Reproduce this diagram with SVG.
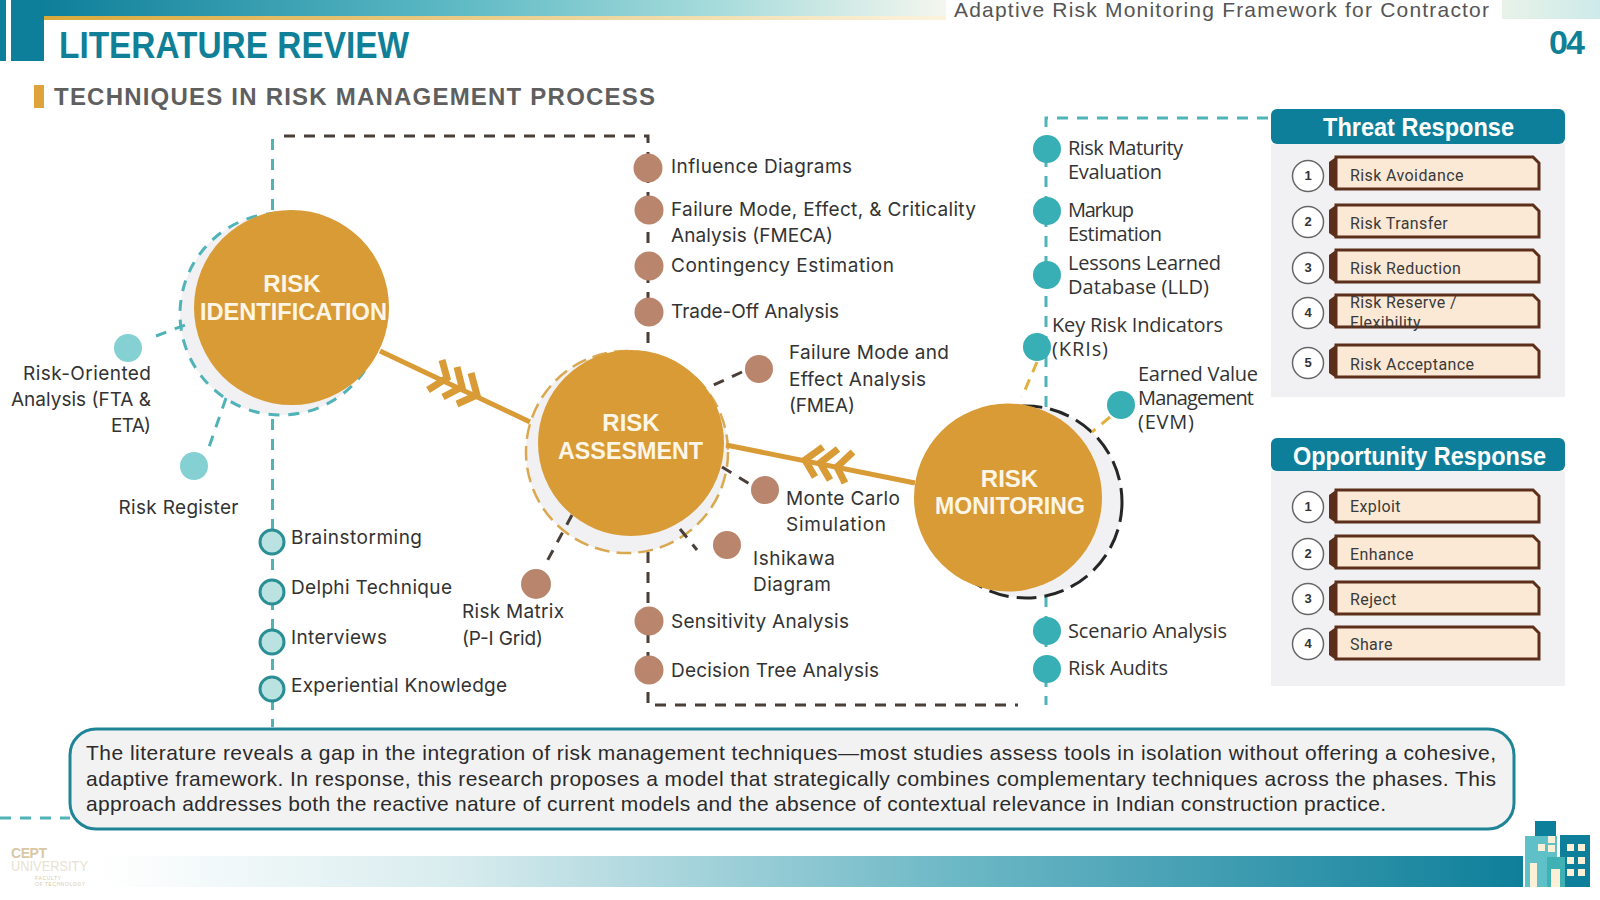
<svg xmlns="http://www.w3.org/2000/svg" width="1600" height="900" viewBox="0 0 1600 900">
<defs>
<linearGradient id="topBar" x1="0" x2="1" y1="0" y2="0"><stop offset="0" stop-color="#0e7f9a"/><stop offset="0.45" stop-color="#5cb9c4"/><stop offset="0.75" stop-color="#a8dcdc"/><stop offset="1" stop-color="#f4f6ee"/></linearGradient>
<linearGradient id="topRight" x1="0" x2="1" y1="0" y2="0"><stop offset="0" stop-color="#e8f2e8"/><stop offset="1" stop-color="#cdeaea"/></linearGradient>
<linearGradient id="goldLine" x1="0" x2="1" y1="0" y2="0"><stop offset="0" stop-color="#d9a93a"/><stop offset="1" stop-color="#fbf3dd"/></linearGradient>
<linearGradient id="botBar" x1="0" x2="1" y1="0" y2="0"><stop offset="0" stop-color="#ffffff"/><stop offset="0.25" stop-color="#d8ecee"/><stop offset="0.6" stop-color="#6db8c6"/><stop offset="1" stop-color="#0e7f9a"/></linearGradient>
<symbol id="box" overflow="visible"><path class="tab" d="M0 5 L7 0 V33 L0 28 Z"/><path class="bx" d="M7 0 H204 L210 6 V32 H7 Z"/></symbol>
</defs>
<style>
text{font-family:"Liberation Sans",Arial,sans-serif}
.lbl{font-family:Inter,"Liberation Sans",sans-serif;font-size:19px;fill:#333}
.lbr{font-family:"Open Sans","Liberation Sans",sans-serif;font-size:20px;fill:#333}
.cap{font-weight:700;font-size:24px;fill:#fdf6e6;text-anchor:middle}
.hd{font-weight:700;font-size:25px;fill:#fff}
.it{font-family:Roboto,sans-serif;font-size:16px;fill:#3a3a3a;letter-spacing:.4px}
.num{font-weight:700;font-size:13px;fill:#333;text-anchor:middle}
.nc{fill:#fff;stroke:#666;stroke-width:1.5}
.tab{fill:#5c2f1a}
.bx{fill:#fbe9d6;stroke:#5c2f1a;stroke-width:3}
.gold{fill:#d99b36}
.cres{fill:#f1f1f3}
.tl{fill:none;stroke:#4fb3b8;stroke-width:3;stroke-dasharray:11 9}
.bl{fill:none;stroke:#4a3f38;stroke-width:3;stroke-dasharray:11 9}
.yl{fill:none;stroke:#e0b13c;stroke-width:3;stroke-dasharray:11 8}
.arrow{fill:none;stroke:#d99b36;stroke-width:5}
.fl{fill:none;stroke:#d99b36;stroke-width:7}
.br{fill:#b9856c}
.te{fill:#38aeb5}
.lt{fill:#85d0d3}
.rg{fill:#b9e2e0;stroke:#2a8f94;stroke-width:3}
.para{font-size:21px;fill:#2b2b2b}
</style>

<g id="header">
<rect x="44" y="0" width="902" height="17" fill="url(#topBar)"/>
<rect x="44" y="16" width="902" height="4" fill="url(#goldLine)"/>
<rect x="0" y="0" width="6" height="61" fill="#0e7f9a"/>
<rect x="11" y="0" width="33" height="61" fill="#0e7f9a"/>
<rect x="1502" y="0" width="98" height="19" fill="url(#topRight)"/>
<text x="954" y="17" font-size="21" fill="#555" textLength="535">Adaptive Risk Monitoring Framework for Contractor</text>
<text x="59" y="58" font-size="36" font-weight="700" fill="#107f98" textLength="350" lengthAdjust="spacingAndGlyphs">LITERATURE REVIEW</text>
<text x="1549" y="54" font-size="34" font-weight="700" fill="#107f98" textLength="36">04</text>
<rect x="34" y="85" width="10" height="23" fill="#dfa33c"/>
<text x="54" y="105" font-size="24" font-weight="700" fill="#5f5f5f" textLength="601">TECHNIQUES IN RISK MANAGEMENT PROCESS</text>
</g>

<g id="footer">
<rect x="100" y="856" width="1423" height="31" fill="url(#botBar)"/>
<g id="buildings">
<rect x="1535" y="821" width="21" height="20" fill="#0e7f9a"/>
<rect x="1560" y="835" width="30" height="52" fill="#0e7f9a"/>
<rect x="1525" y="836" width="22" height="51" fill="#5fc0c8"/>
<rect x="1547" y="836" width="10" height="21" fill="#5fc0c8"/>
<rect x="1547" y="857" width="18" height="30" fill="#3fb0b3"/>
<rect x="1530" y="863" width="7" height="24" fill="#fbf0d6"/>
<rect x="1551" y="869" width="9" height="18" fill="#fbf0d6"/>
<g fill="#fbf0d6"><rect x="1538" y="844" width="7" height="7"/><rect x="1548" y="836" width="7" height="7"/><rect x="1548" y="845" width="7" height="7"/><rect x="1567" y="844" width="7" height="7"/><rect x="1578" y="844" width="7" height="7"/><rect x="1567" y="857" width="7" height="7"/><rect x="1578" y="857" width="7" height="7"/><rect x="1567" y="869" width="7" height="7"/><rect x="1578" y="869" width="7" height="7"/></g>
</g>
<g id="logo">
<text x="11" y="858" font-size="14" font-weight="700" fill="#d8c8a6" textLength="36">CEPT</text>
<text x="11" y="871" font-size="14" fill="#e8e2d2" textLength="77" lengthAdjust="spacingAndGlyphs">UNIVERSITY</text>
<text x="35" y="880" font-size="5" fill="#d8c8a6" textLength="26">FACULTY</text>
<text x="35" y="886" font-size="5" fill="#d8c8a6" textLength="50">OF TECHNOLOGY</text>
</g>
</g>

<g id="connectors">
<path class="tl" d="M272.500 139V727"/>
<path class="bl" d="M284 136H648V705H1018"/>
<path class="tl" d="M1268 118H1046V705"/>
<path class="tl" d="M0 818H70"/>
</g>

<g id="crescents">
<circle class="cres" cx="281" cy="314" r="101"/>
<circle class="cres" cx="627" cy="452" r="101"/>
<circle class="cres" cx="1026" cy="502" r="96"/>
<circle cx="281" cy="314" r="101" class="tl" stroke-dasharray="18 7"/>
<circle cx="627" cy="452" r="101" fill="none" stroke="#d9a84f" stroke-width="2.500" stroke-dasharray="15 7"/>
<circle cx="1026" cy="502" r="96" fill="none" stroke="#262626" stroke-width="3" stroke-dasharray="20 8"/>
</g>

<g id="radials">
<path class="tl" d="M156 336L193 322"/>
<path class="tl" d="M226 398L208 450"/>
<path class="bl" d="M742 372L705 389"/>
<path class="bl" d="M722 467L753 486"/>
<path class="bl" d="M680 529L697 550"/>
<path class="bl" d="M572 515L545 565"/>
<path class="yl" d="M1037 362L1022 397"/>
<path class="yl" d="M1110 417L1092 432"/>
<path class="arrow" d="M380 351L530 422"/>
<path class="arrow" d="M726 445L915 483"/>
<path class="fl" d="M442 360L447 378L428 390"/><path class="fl" d="M457 367L462 387L443 397"/><path class="fl" d="M471 373L477 395L457 404"/>
<path class="fl" d="M823 447L805 460L815 477"/><path class="fl" d="M838 449L820 463L830 480"/><path class="fl" d="M853 452L837 467L845 483"/>
</g>

<g id="risk-identification"><circle class="gold" cx="291.500" cy="307.500" r="97.500"/><text class="cap" x="292" y="292">RISK</text><text class="cap" x="293.500" y="320" textLength="187" lengthAdjust="spacingAndGlyphs">IDENTIFICATION</text></g>
<g id="risk-assesment"><circle class="gold" cx="631" cy="443" r="93"/><text class="cap" x="631" y="431">RISK</text><text class="cap" x="630.500" y="459" textLength="145" lengthAdjust="spacingAndGlyphs">ASSESMENT</text></g>
<g id="risk-monitoring"><circle class="gold" cx="1008" cy="497.500" r="94"/><text class="cap" x="1009.500" y="487">RISK</text><text class="cap" x="1010" y="514" textLength="150" lengthAdjust="spacingAndGlyphs">MONITORING</text></g>

<g id="identification-techniques">
<g id="n-roa"><circle class="lt" cx="128" cy="348" r="14"/><text class="lbl" x="23" y="380" textLength="128">Risk-Oriented</text><text class="lbl" x="11" y="406" textLength="140">Analysis (FTA &amp;</text><text class="lbl" x="111" y="432" textLength="40">ETA)</text></g>
<g id="n-register"><circle class="lt" cx="194" cy="466" r="14"/><text class="lbl" x="118.500" y="514" textLength="120">Risk Register</text></g>
<g id="n-brain"><circle class="rg" cx="272" cy="542" r="12"/><text class="lbl" x="291" y="544" textLength="131">Brainstorming</text></g>
<g id="n-delphi"><circle class="rg" cx="272" cy="592" r="12"/><text class="lbl" x="291" y="594" textLength="161">Delphi Technique</text></g>
<g id="n-interviews"><circle class="rg" cx="272" cy="642" r="12"/><text class="lbl" x="291" y="644" textLength="96">Interviews</text></g>
<g id="n-experiential"><circle class="rg" cx="272" cy="689" r="12"/><text class="lbl" x="291" y="692" textLength="216">Experiential Knowledge</text></g>
</g>

<g id="assessment-techniques">
<g id="n-influence"><circle class="br" cx="648" cy="168" r="14.500"/><text class="lbl" x="671" y="173" textLength="181">Influence Diagrams</text></g>
<g id="n-fmeca"><circle class="br" cx="649" cy="210" r="14.500"/><text class="lbl" x="671" y="216" textLength="305">Failure Mode, Effect, &amp; Criticality</text><text class="lbl" x="671" y="242" textLength="162">Analysis (FMECA)</text></g>
<g id="n-contingency"><circle class="br" cx="649" cy="266" r="14.500"/><text class="lbl" x="671" y="272" textLength="223">Contingency Estimation</text></g>
<g id="n-tradeoff"><circle class="br" cx="649" cy="312" r="14.500"/><text class="lbl" x="671" y="318" textLength="168">Trade-Off Analysis</text></g>
<g id="n-fmea"><circle class="br" cx="759" cy="369" r="14"/><text class="lbl" x="789" y="359" textLength="160">Failure Mode and</text><text class="lbl" x="789" y="386" textLength="137">Effect Analysis</text><text class="lbl" x="789" y="412" textLength="66">(FMEA)</text></g>
<g id="n-monte"><circle class="br" cx="765" cy="490" r="14"/><text class="lbl" x="786" y="505" textLength="114">Monte Carlo</text><text class="lbl" x="786" y="531" textLength="100">Simulation</text></g>
<g id="n-ishikawa"><circle class="br" cx="727" cy="545" r="14"/><text class="lbl" x="753" y="565" textLength="82">Ishikawa</text><text class="lbl" x="753" y="591" textLength="78">Diagram</text></g>
<g id="n-matrix"><circle class="br" cx="536" cy="584" r="15"/><text class="lbl" x="462" y="618" textLength="102">Risk Matrix</text><text class="lbl" x="462" y="645" textLength="81">(P-I Grid)</text></g>
<g id="n-sensitivity"><circle class="br" cx="649" cy="621" r="14.500"/><text class="lbl" x="671" y="628" textLength="178">Sensitivity Analysis</text></g>
<g id="n-decision"><circle class="br" cx="649" cy="670" r="14.500"/><text class="lbl" x="671" y="677" textLength="208">Decision Tree Analysis</text></g>
</g>

<g id="monitoring-techniques">
<g id="n-maturity"><circle class="te" cx="1047" cy="149" r="14"/><text class="lbr" x="1068" y="155" textLength="115">Risk Maturity</text><text class="lbr" x="1068" y="179" textLength="94">Evaluation</text></g>
<g id="n-markup"><circle class="te" cx="1047" cy="211" r="14"/><text class="lbr" x="1068" y="217" textLength="66">Markup</text><text class="lbr" x="1068" y="241" textLength="94">Estimation</text></g>
<g id="n-lessons"><circle class="te" cx="1047" cy="275" r="14"/><text class="lbr" x="1068" y="270" textLength="153">Lessons Learned</text><text class="lbr" x="1068" y="294" textLength="141">Database (LLD)</text></g>
<g id="n-kri"><circle class="te" cx="1037" cy="347" r="14"/><text class="lbr" x="1052" y="332" textLength="171">Key Risk Indicators</text><text class="lbr" x="1052" y="356" textLength="56">(KRIs)</text></g>
<g id="n-evm"><circle class="te" cx="1121" cy="405" r="14"/><text class="lbr" x="1138" y="381" textLength="120">Earned Value</text><text class="lbr" x="1138" y="405" textLength="116">Management</text><text class="lbr" x="1138" y="429" textLength="56">(EVM)</text></g>
<g id="n-scenario"><circle class="te" cx="1047" cy="631" r="14"/><text class="lbr" x="1068" y="638" textLength="159">Scenario Analysis</text></g>
<g id="n-audits"><circle class="te" cx="1047" cy="669" r="14"/><text class="lbr" x="1068" y="675" textLength="100">Risk Audits</text></g>
</g>

<g id="threat-response">
<rect x="1271" y="144" width="294" height="253" fill="#f1f1f3"/>
<rect x="1271" y="109" width="294" height="35" rx="6" fill="#0e7f9a"/>
<text class="hd" x="1323" y="136" textLength="191" lengthAdjust="spacingAndGlyphs">Threat Response</text>
<g id="t1"><circle class="nc" cx="1308" cy="176" r="15.500"/><text class="num" x="1308" y="180">1</text><use href="#box" x="1329" y="157"/><text class="it" x="1350" y="181">Risk Avoidance</text></g>
<g id="t2"><circle class="nc" cx="1308" cy="222" r="15.500"/><text class="num" x="1308" y="226">2</text><use href="#box" x="1329" y="205"/><text class="it" x="1350" y="229">Risk Transfer</text></g>
<g id="t3"><circle class="nc" cx="1308" cy="268" r="15.500"/><text class="num" x="1308" y="272">3</text><use href="#box" x="1329" y="250"/><text class="it" x="1350" y="274">Risk Reduction</text></g>
<g id="t4"><circle class="nc" cx="1308" cy="313" r="15.500"/><text class="num" x="1308" y="317">4</text><use href="#box" x="1329" y="295"/><text class="it" x="1350" y="308">Risk Reserve /</text><text class="it" x="1350" y="328">Flexibility</text></g>
<g id="t5"><circle class="nc" cx="1308" cy="363" r="15.500"/><text class="num" x="1308" y="367">5</text><use href="#box" x="1329" y="345"/><text class="it" x="1350" y="370">Risk Acceptance</text></g>
</g>

<g id="opportunity-response">
<rect x="1271" y="471" width="294" height="215" fill="#f1f1f3"/>
<rect x="1271" y="438" width="294" height="33" rx="6" fill="#0e7f9a"/>
<text class="hd" x="1293" y="465" textLength="253" lengthAdjust="spacingAndGlyphs">Opportunity Response</text>
<g id="o1"><circle class="nc" cx="1308" cy="507" r="15.500"/><text class="num" x="1308" y="511">1</text><use href="#box" x="1329" y="490"/><text class="it" x="1350" y="512">Exploit</text></g>
<g id="o2"><circle class="nc" cx="1308" cy="554" r="15.500"/><text class="num" x="1308" y="558">2</text><use href="#box" x="1329" y="536"/><text class="it" x="1350" y="560">Enhance</text></g>
<g id="o3"><circle class="nc" cx="1308" cy="599" r="15.500"/><text class="num" x="1308" y="603">3</text><use href="#box" x="1329" y="582"/><text class="it" x="1350" y="605">Reject</text></g>
<g id="o4"><circle class="nc" cx="1308" cy="644" r="15.500"/><text class="num" x="1308" y="648">4</text><use href="#box" x="1329" y="627"/><text class="it" x="1350" y="650">Share</text></g>
</g>

<g id="summary">
<rect x="70" y="729" width="1444" height="100" rx="26" fill="#f2f2f3" stroke="#1f8496" stroke-width="3"/>
<text class="para" x="86" y="760" textLength="1410">The literature reveals a gap in the integration of risk management techniques—most studies assess tools in isolation without offering a cohesive,</text>
<text class="para" x="86" y="786" textLength="1410">adaptive framework. In response, this research proposes a model that strategically combines complementary techniques across the phases. This</text>
<text class="para" x="86" y="811" textLength="1300">approach addresses both the reactive nature of current models and the absence of contextual relevance in Indian construction practice.</text>
</g>
</svg>
